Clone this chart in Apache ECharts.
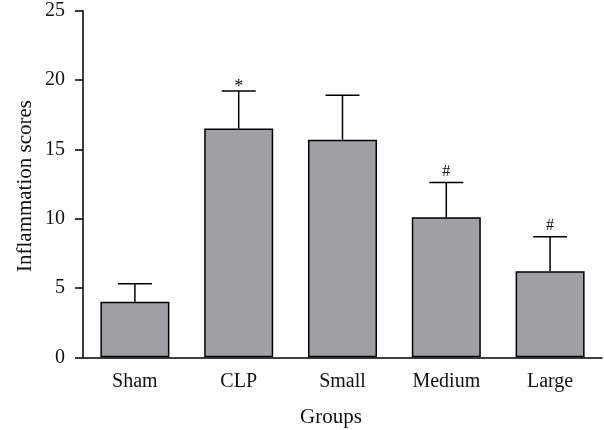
<!DOCTYPE html>
<html>
<head>
<meta charset="utf-8">
<script src="https://cdn.jsdelivr.net/npm/echarts@6/dist/echarts.min.js"></script>
<style>html,body{margin:0;padding:0;background:#fff}#c{width:604px;height:430px}</style>
</head>
<body>
<div id="c"></div>
<script>
var categories = ['Sham', 'CLP', 'Small', 'Medium', 'Large'];
var means = [4.0, 16.5, 15.7, 10.1, 6.2];
var upperErr = [5.3, 19.2, 18.9, 12.6, 8.7];
var markers = ['', '*', '', '#', '#'];
var yTicks = [0, 5, 10, 15, 20, 25];

var FONT = 'Liberation Serif';
var chart = echarts.init(document.getElementById('c'));
var errData = categories.map(function (c, i) { return [i, means[i], upperErr[i]]; });

chart.setOption({
  animation: false,
  grid: { left: 83, right: 2, top: 10.7, bottom: 72.7 },
  xAxis: {
    type: 'category',
    data: categories,
    axisLine: { lineStyle: { color: '#000', width: 1.5 } },
    axisTick: { alignWithLabel: true, length: 9, lineStyle: { color: '#000', width: 1.5 } },
    axisLabel: { color: '#111', fontFamily: FONT, fontSize: 20, margin: 14 }
  },
  yAxis: {
    type: 'value',
    min: 0, max: 25, interval: 5,
    axisLine: { show: true, lineStyle: { color: '#000', width: 1.5 } },
    axisTick: { show: true, length: 8, lineStyle: { color: '#000', width: 1.5 } },
    splitLine: { show: false },
    axisLabel: { color: '#111', fontFamily: FONT, fontSize: 20, margin: 18,
      formatter: function (v) { return yTicks.indexOf(v) >= 0 ? String(v) : ''; } }
  },
  graphic: [
    { type: 'text', x: 25, y: 186, rotation: Math.PI / 2,
      style: { text: 'Inflammation scores', fill: '#111', font: '21px "Liberation Serif"',
        textAlign: 'center', textVerticalAlign: 'middle' } },
    { type: 'text', x: 331, y: 417,
      style: { text: 'Groups', fill: '#111', font: '21px "Liberation Serif"',
        textAlign: 'center', textVerticalAlign: 'middle' } }
  ],
  series: [
    {
      type: 'bar',
      data: means,
      barWidth: 69,
      itemStyle: { color: '#a09fa3', borderColor: '#000', borderWidth: 1.5 },
      z: 2
    },
    {
      type: 'custom',
      data: errData,
      z: 1,
      renderItem: function (params, api) {
        var i = api.value(0);
        var top = api.coord([i, api.value(1)]);
        var hi = api.coord([i, api.value(2)]);
        var half = 17;
        var st = { stroke: '#000', lineWidth: 1.5 };
        var children = [
          { type: 'line', shape: { x1: top[0], y1: top[1], x2: hi[0], y2: hi[1] }, style: st },
          { type: 'line', shape: { x1: hi[0] - half, y1: hi[1], x2: hi[0] + half, y2: hi[1] }, style: st }
        ];
        var m = markers[params.dataIndex];
        if (m) {
          var dy = m === '*' ? 5 : -3;
          children.push({ type: 'text', x: hi[0], y: hi[1] + dy,
            style: { text: m, fill: '#111', font: (m === '*' ? '18px' : '16px') + ' "Liberation Serif"', textAlign: 'center', textVerticalAlign: 'bottom' } });
        }
        return { type: 'group', children: children };
      }
    }
  ]
});
</script>
</body>
</html>
